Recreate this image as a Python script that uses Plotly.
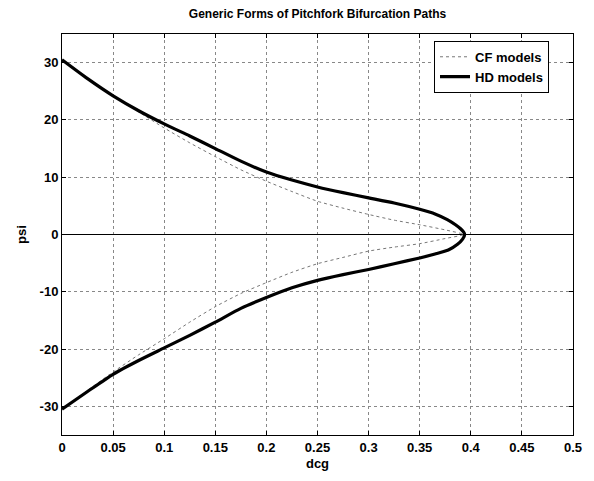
import plotly.graph_objects as go

# HD models (thick) : upper branch then lower branch
hd_dcg = [0, 0.025, 0.05, 0.075, 0.1, 0.125, 0.15, 0.175, 0.2, 0.225, 0.25, 0.275, 0.3, 0.325,
          0.35, 0.365, 0.377, 0.385, 0.39, 0.393, 0.394,
          0.392, 0.387, 0.378, 0.365, 0.35, 0.325, 0.3, 0.275, 0.25, 0.225, 0.2, 0.175, 0.15,
          0.125, 0.1, 0.075, 0.05, 0.025, 0]
hd_psi = [30.5, 27.2, 24.2, 21.6, 19.3, 17.2, 15.0, 12.8, 10.9, 9.5, 8.3, 7.3, 6.4, 5.5,
          4.4, 3.6, 2.6, 1.7, 1.0, 0.4, 0,
          -0.8, -1.7, -2.7, -3.4, -4.1, -5.1, -6.1, -7.0, -8.0, -9.3, -11.0, -12.9, -15.3,
          -17.6, -19.8, -22.0, -24.4, -27.4, -30.5]

# CF models (thin dotted)
cf_dcg = [0, 0.025, 0.05, 0.075, 0.1, 0.125, 0.15, 0.175, 0.2, 0.225, 0.25, 0.275, 0.3, 0.325,
          0.35, 0.375, 0.393,
          0.375, 0.35, 0.325, 0.3, 0.275, 0.25, 0.225, 0.2, 0.175, 0.15, 0.125, 0.1, 0.075,
          0.05, 0.025, 0]
cf_psi = [30.5, 27.2, 24.2, 21.4, 18.6, 16.0, 13.6, 11.3, 9.3, 7.5, 5.8, 4.6, 3.5, 2.5,
          1.7, 0.8, 0,
          -0.7, -1.6, -2.2, -2.9, -4.0, -5.1, -6.6, -8.4, -10.3, -12.6, -15.3, -18.2, -21.0,
          -24.0, -27.2, -30.5]

x_ticks = [0, 0.05, 0.1, 0.15, 0.2, 0.25, 0.3, 0.35, 0.4, 0.45, 0.5]
x_labels = ["0", "0.05", "0.1", "0.15", "0.2", "0.25", "0.3", "0.35", "0.4", "0.45", "0.5"]
y_ticks = [-30, -20, -10, 0, 10, 20, 30]
y_labels = ["-30", "-20", "-10", "0", "10", "20", "30"]

FONT = "Liberation Sans, Arial, sans-serif"

fig = go.Figure()
fig.add_trace(go.Scatter(x=cf_dcg, y=cf_psi, mode="lines", name="CF models",
                         line=dict(color="#777777", width=1, dash="dot", shape="spline",
                                   smoothing=0.6)))
fig.add_trace(go.Scatter(x=hd_dcg, y=hd_psi, mode="lines", name="HD models",
                         line=dict(color="black", width=3.2, shape="spline", smoothing=0.6)))

axis_common = dict(showline=True, linecolor="black", linewidth=1, mirror="ticks",
                   ticks="inside", ticklen=4, tickcolor="black",
                   showgrid=True, gridcolor="#888888", griddash="dot", gridwidth=0.6,
                   tickfont=dict(family=FONT, size=13, color="black", weight="bold"))

fig.update_layout(
    width=594, height=481,
    margin=dict(l=62, r=17, t=34, b=41),
    paper_bgcolor="white", plot_bgcolor="white",
    title=dict(text="Generic Forms of Pitchfork Bifurcation Paths", x=0.5, xref="paper",
               y=0.972, yref="container", xanchor="center", yanchor="middle",
               font=dict(family=FONT, size=12, color="black", weight="bold")),
    xaxis=dict(range=[0, 0.5], tickvals=x_ticks, ticktext=x_labels, zeroline=False,
               title=dict(text="dcg", standoff=5,
                          font=dict(family=FONT, size=13, color="black", weight="bold")),
               **axis_common),
    yaxis=dict(range=[-35, 35], tickvals=y_ticks, ticktext=y_labels,
               zeroline=True, zerolinecolor="black", zerolinewidth=1,
               title=dict(text="psi", standoff=10,
                          font=dict(family=FONT, size=13, color="black", weight="bold")),
               **axis_common),
    legend=dict(x=0.728, y=0.983, xanchor="left", yanchor="top",
                bgcolor="white", bordercolor="black", borderwidth=1,
                font=dict(family=FONT, size=13, color="black", weight="bold"),
                tracegroupgap=0),
    showlegend=True,
)

fig.write_html("out.html")
